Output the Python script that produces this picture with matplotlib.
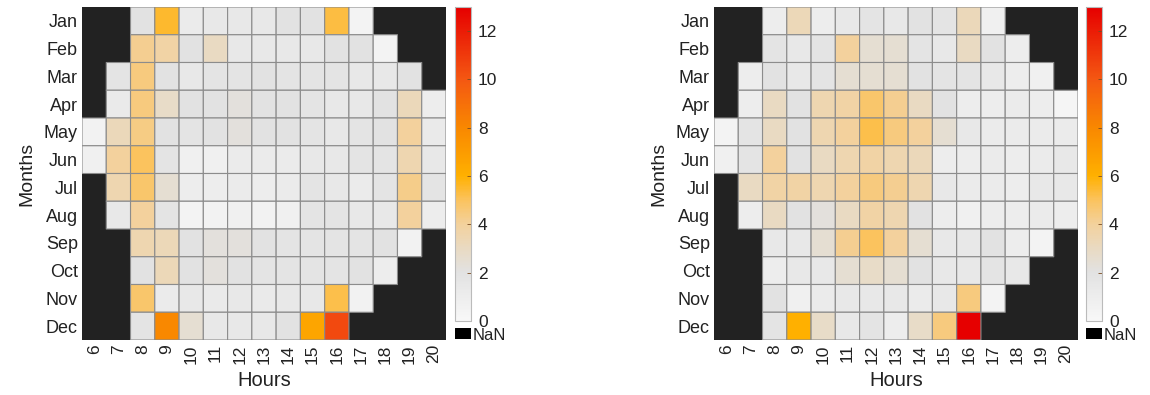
import numpy as np
import matplotlib
matplotlib.use("Agg")
import matplotlib.pyplot as plt
from matplotlib.colors import LinearSegmentedColormap, Normalize
from matplotlib.patches import Rectangle

plt.rcParams['font.family'] = ['Liberation Sans', 'DejaVu Sans']

hours = list(range(6, 21))
months = ['Jan', 'Feb', 'Mar', 'Apr', 'May', 'Jun', 'Jul', 'Aug', 'Sep', 'Oct', 'Nov', 'Dec']
n = np.nan

# values per month (rows), hours 6..20 (columns)
left_values = [
    [n, n, 2.0, 5.5, 1.2, 1.5, 1.5, 1.5, 2.0, 2.0, 5.3, 0.5, n, n, n],
    [n, n, 4.2, 3.8, 2.0, 3.0, 1.5, 1.5, 1.5, 1.5, 2.0, 2.0, 0.5, n, n],
    [n, 1.8, 4.5, 2.0, 1.5, 1.8, 1.8, 2.0, 1.8, 1.8, 1.8, 1.5, 1.5, 2.0, n],
    [n, 1.3, 4.5, 2.8, 2.0, 2.0, 2.2, 2.0, 2.0, 1.8, 1.5, 1.5, 2.0, 3.2, 1.0],
    [0.6, 3.2, 4.4, 2.0, 1.8, 2.0, 2.2, 2.0, 2.0, 1.8, 1.5, 1.8, 2.0, 4.0, 1.3],
    [0.8, 4.0, 5.0, 1.8, 0.8, 0.8, 1.2, 1.2, 1.2, 1.5, 1.5, 1.8, 1.8, 3.5, 1.5],
    [n, 3.5, 4.8, 2.5, 1.0, 1.0, 1.2, 1.0, 1.2, 1.8, 1.5, 1.2, 1.8, 4.3, 1.8],
    [n, 1.5, 4.0, 1.8, 0.5, 0.6, 0.8, 0.6, 0.8, 1.8, 1.8, 1.5, 1.5, 4.0, 1.0],
    [n, n, 3.5, 3.3, 2.0, 2.2, 2.2, 2.0, 1.8, 1.8, 1.8, 1.8, 2.0, 0.6, n],
    [n, n, 2.0, 3.3, 2.0, 2.2, 2.0, 1.8, 1.8, 1.8, 1.8, 2.0, 1.0, n, n],
    [n, n, 4.8, 1.2, 1.5, 1.3, 1.5, 1.3, 1.5, 1.5, 5.2, 0.6, n, n, n],
    [n, n, 1.8, 8.0, 2.5, 1.5, 1.5, 1.5, 2.0, 6.5, 10.5, n, n, n, n],
]

right_values = [
    [n, n, 1.0, 3.3, 1.0, 1.5, 1.8, 1.5, 2.0, 1.8, 3.2, 0.8, n, n, n],
    [n, n, 1.8, 1.5, 1.8, 4.0, 2.5, 2.5, 1.8, 1.5, 3.0, 2.0, 1.0, n, n],
    [n, 1.0, 2.0, 1.5, 1.8, 2.5, 2.5, 2.5, 2.0, 1.8, 1.8, 1.5, 1.0, 0.8, n],
    [n, 1.0, 3.0, 2.0, 3.5, 3.8, 4.8, 4.2, 3.0, 2.0, 1.0, 1.0, 1.2, 1.0, 0.3],
    [0.5, 1.8, 3.0, 2.0, 3.5, 4.0, 5.2, 4.5, 4.0, 2.5, 1.5, 1.2, 1.2, 1.2, 1.2],
    [0.8, 1.8, 4.0, 2.0, 3.0, 3.5, 3.8, 3.5, 3.2, 1.0, 1.0, 1.2, 1.0, 1.2, 1.5],
    [n, 3.0, 3.8, 3.8, 3.5, 4.0, 4.5, 4.2, 3.5, 1.5, 1.2, 1.2, 1.0, 1.5, 1.5],
    [n, 1.0, 3.0, 2.0, 2.2, 3.0, 3.8, 3.5, 2.0, 1.0, 0.8, 1.0, 1.0, 1.2, 1.0],
    [n, n, 1.5, 1.5, 2.5, 4.2, 5.0, 4.0, 2.5, 1.5, 1.5, 2.0, 1.0, 0.5, n],
    [n, n, 1.0, 1.5, 1.5, 2.5, 2.8, 2.5, 2.0, 1.5, 1.5, 1.8, 1.5, n, n],
    [n, n, 2.0, 0.8, 1.2, 1.5, 1.5, 1.5, 1.2, 1.5, 4.5, 0.5, n, n, n],
    [n, n, 1.8, 6.0, 2.8, 1.5, 1.8, 1.0, 2.8, 4.5, 13.0, n, n, n, n],
]

cbar_ticks = [0, 2, 4, 6, 8, 10, 12]
vmin, vmax = 0, 13

cmap = LinearSegmentedColormap.from_list('heat', [
    (0.0, '#f8f8f8'),
    (2 / 13, '#e2e2e2'),
    (3 / 13, '#e9dac2'),
    (4 / 13, '#f3d19c'),
    (5 / 13, '#fbc35e'),
    (6 / 13, '#ffb000'),
    (8 / 13, '#f98800'),
    (10 / 13, '#f45812'),
    (1.0, '#e60000'),
])
norm = Normalize(vmin=vmin, vmax=vmax)

W, H = 1150, 395
fig = plt.figure(figsize=(W / 100, H / 100), dpi=100)

def fx(px):
    return px / W

def fy(py):
    return 1 - py / H

text_color = '#222222'

def draw_panel(values, ax_left, cb_left):
    top, bottom = 7, 340
    ax = fig.add_axes([fx(ax_left), fy(bottom), fx(364), (bottom - top) / H])
    data = np.ma.masked_invalid(np.array(values, dtype=float))
    ax.set_facecolor('#222222')
    ax.pcolor(np.arange(len(hours) + 1), np.arange(len(months) + 1), data,
              cmap=cmap, norm=norm, edgecolors='#8c8c8c', linewidth=0.8)
    ax.set_xlim(0, len(hours))
    ax.set_ylim(len(months), 0)
    ax.set_xticks(np.arange(len(hours)) + 0.5)
    ax.set_xticklabels([str(h) for h in hours], rotation=90, fontsize=12.5, color=text_color)
    ax.set_yticks(np.arange(len(months)) + 0.5)
    ax.set_yticklabels(months, fontsize=13, color=text_color)
    ax.tick_params(length=0, pad=3)
    for s in ax.spines.values():
        s.set_visible(False)
    ax.set_xlabel('Hours', fontsize=14.5, color=text_color, labelpad=5)
    ax.set_ylabel('Months', fontsize=14, color=text_color, labelpad=6)

    # colorbar
    cb_top, cb_bottom = 7, 321
    cax = fig.add_axes([fx(cb_left), fy(cb_bottom), fx(16), (cb_bottom - cb_top) / H])
    cb = fig.colorbar(plt.cm.ScalarMappable(norm=norm, cmap=cmap), cax=cax, ticks=cbar_ticks)
    cb.outline.set_edgecolor('#bbbbbb')
    cb.outline.set_linewidth(0.8)
    cax.tick_params(length=3, width=0.6, direction='in', color='#7a4a20', labelsize=12.5,
                    labelcolor=text_color, pad=5)
    # NaN legend
    nax = fig.add_axes([fx(cb_left), fy(339), fx(16), 11 / H])
    nax.add_patch(Rectangle((0, 0), 1, 1, color='#000000'))
    nax.set_xlim(0, 1)
    nax.set_ylim(0, 1)
    nax.axis('off')
    fig.text(fx(cb_left + 18), fy(336), 'NaN', fontsize=12, color=text_color,
             ha='left', va='center')
    return ax

draw_panel(left_values, 82, 455)
draw_panel(right_values, 714, 1086)

fig.savefig('out.png', dpi=100)
